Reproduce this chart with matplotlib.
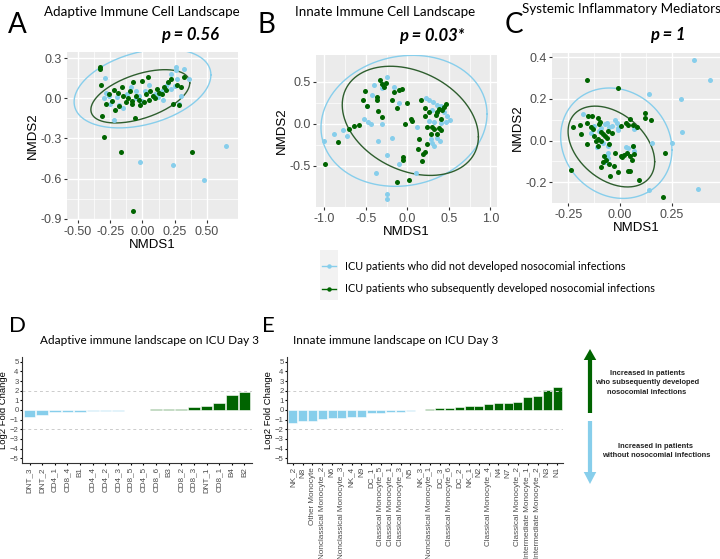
import numpy as np
import matplotlib
matplotlib.use("Agg")
import matplotlib.pyplot as plt
from matplotlib.lines import Line2D
from matplotlib.patches import FancyArrow, Rectangle

# ---- NMDS data ----
a_green = [(-0.33, 0.23), (-0.33, 0.22), (-0.32, 0.10), (-0.30, -0.29), (-0.17, -0.40), (-0.07, -0.84),
           (0.38, -0.40), (-0.31, -0.13), (-0.28, -0.04), (-0.26, 0.03), (-0.24, -0.02), (-0.22, 0.06),
           (-0.21, -0.09), (-0.19, 0.04), (-0.18, -0.06), (-0.16, 0.08), (-0.15, 0.02), (-0.13, -0.03),
           (-0.11, 0.00), (-0.10, 0.05), (-0.08, -0.04), (-0.07, 0.12), (-0.06, -0.15), (-0.05, 0.02),
           (-0.03, -0.01), (-0.02, -0.05), (0.00, 0.13), (0.01, -0.03), (0.03, 0.03), (0.04, 0.16),
           (0.05, -0.01), (0.06, 0.05), (0.08, 0.02), (0.10, 0.00), (0.11, 0.07), (0.13, 0.04),
           (0.15, 0.03), (0.17, 0.08), (0.18, 0.06), (0.20, 0.12), (0.22, 0.14), (0.24, -0.04),
           (0.28, -0.05), (0.30, 0.08), (0.32, 0.16), (0.27, 0.10), (-0.08, -0.02)]
a_blue = [(0.65, -0.36), (0.48, -0.61), (0.24, -0.50), (-0.02, -0.48), (0.26, 0.23), (0.26, 0.21),
          (0.32, 0.22), (0.36, 0.14), (0.22, 0.18), (0.20, 0.11), (-0.29, 0.15), (-0.28, 0.04),
          (-0.26, 0.02), (-0.30, 0.00), (-0.25, -0.04), (-0.22, -0.16), (-0.18, -0.05), (-0.15, -0.07),
          (-0.12, 0.03), (-0.09, 0.08), (-0.05, 0.00), (-0.03, 0.02), (0.02, 0.05), (0.05, 0.10),
          (0.08, 0.02), (0.12, 0.01), (0.15, 0.05), (0.18, 0.09), (0.22, 0.07), (0.25, 0.09),
          (0.28, -0.04), (0.30, 0.02), (0.27, 0.14), (-0.05, 0.05), (0.00, -0.02), (-0.20, 0.01),
          (0.10, 0.03), (0.16, -0.01)]

b_green = [(-0.99, -0.48), (-0.83, -0.22), (-0.70, -0.06), (-0.64, -0.03), (-0.58, -0.01), (-0.51, 0.39),
           (-0.53, 0.29), (-0.49, 0.21), (-0.37, 0.32), (-0.36, 0.29), (-0.35, 0.15), (-0.33, 0.52),
           (-0.30, 0.48), (-0.26, 0.49), (-0.28, 0.44), (-0.30, 0.08), (-0.18, 0.29), (-0.16, 0.38),
           (-0.12, 0.19), (-0.06, 0.42), (-0.10, 0.40), (0.00, 0.25), (-0.03, 0.00), (0.04, 0.06),
           (0.06, 0.04), (-0.05, -0.39), (-0.05, -0.43), (-0.13, -0.69), (0.02, -0.67), (0.16, 0.28),
           (0.21, 0.19), (0.21, 0.09), (0.26, 0.14), (0.24, -0.04), (0.28, -0.12), (0.30, -0.04),
           (0.32, -0.06), (0.34, 0.10), (0.36, 0.14), (0.38, 0.18), (0.42, 0.16), (0.44, 0.20),
           (0.47, 0.24), (0.41, 0.06), (0.40, -0.07), (0.38, -0.05), (0.36, -0.12), (0.24, -0.24),
           (0.21, -0.34), (0.19, -0.36), (0.18, -0.44), (0.13, -0.30), (0.14, -0.18)]
b_blue = [(-1.00, -0.21), (-0.88, -0.12), (-0.77, -0.07), (-0.73, -0.15), (-0.52, 0.06), (-0.47, 0.02),
          (-0.44, 0.00), (-0.42, 0.34), (-0.40, 0.46), (-0.30, 0.43), (-0.24, 0.56), (-0.16, 0.44),
          (-0.48, 0.21), (-0.35, -0.20), (-0.38, -0.59), (-0.30, 0.00), (-0.18, -0.17), (-0.24, -0.37),
          (-0.10, -0.48), (-0.24, -0.83), (-0.24, -0.89), (0.10, -0.58), (-0.10, 0.25), (0.12, -0.04),
          (0.22, 0.31), (0.26, 0.28), (0.31, 0.26), (0.36, 0.23), (0.40, 0.21), (0.44, 0.14),
          (0.48, 0.09), (0.51, 0.05), (0.30, 0.16), (0.26, 0.04), (0.32, 0.02), (0.40, 0.01),
          (0.36, -0.17), (0.30, -0.23), (0.32, -0.26), (0.39, -0.21), (0.28, -0.18), (0.46, 0.02)]

c_green = [(-0.16, 0.29), (-0.01, 0.25), (-0.24, -0.14), (0.21, -0.27), (0.22, -0.06), (0.12, 0.13),
           (0.12, 0.11), (0.15, 0.10), (0.09, -0.19), (-0.226, 0.065), (-0.194, 0.073), (-0.19, 0.03),
           (-0.16, 0.083), (-0.155, 0.12), (-0.134, 0.12), (-0.129, 0.054), (-0.109, 0.11), (-0.10, 0.078),
           (-0.09, 0.041), (-0.158, -0.017), (-0.117, 0.0), (-0.109, 0.006), (-0.106, -0.025), (-0.093, 0.0),
           (-0.085, 0.03), (-0.073, 0.022), (-0.064, 0.014), (-0.06, 0.046), (-0.096, 0.089), (-0.125, 0.022),
           (-0.142, 0.065), (-0.04, 0.038), (-0.052, -0.017), (-0.077, -0.073), (-0.085, -0.105),
           (-0.068, -0.094), (-0.052, -0.113), (-0.024, -0.062), (-0.031, -0.12), (-0.093, -0.129),
           (-0.047, -0.168), (-0.011, -0.152), (0.005, -0.073), (0.008, -0.081), (0.018, -0.07),
           (0.034, -0.062), (0.046, -0.073), (0.057, -0.092), (0.065, -0.025), (0.07, -0.065),
           (0.037, -0.144), (0.046, -0.148), (0.005, 0.07), (0.03, 0.083), (0.037, 0.073), (0.062, 0.073),
           (0.046, 0.105), (0.083, 0.067)]
c_blue = [(0.357, 0.387), (0.438, 0.292), (0.14, 0.225), (0.298, 0.197), (0.30, 0.041), (0.155, -0.013),
          (0.252, -0.013), (0.14, -0.24), (0.376, -0.232), (-0.18, 0.125), (-0.142, 0.038), (-0.125, 0.07),
          (-0.101, 0.046), (-0.09, 0.062), (-0.073, 0.078), (-0.064, 0.083), (-0.052, 0.067), (-0.041, 0.07),
          (-0.024, 0.098), (-0.011, 0.062), (-0.011, 0.05), (-0.015, 0.086), (-0.06, -0.025), (-0.057, -0.062),
          (-0.06, -0.086), (-0.073, -0.102), (-0.064, -0.073), (0.029, -0.03), (0.037, -0.038), (0.062, -0.025),
          (0.07, -0.049), (0.067, 0.054), (0.073, 0.062), (-0.112, -0.033), (-0.083, -0.01)]

# 95% ellipses: centre x, centre y, half-width, half-height, phase (deg)
a_ell = {"blue": (0.0, 0.073, 0.53, 0.295, 70), "green": (-0.017, 0.014, 0.383, 0.199, 60)}
b_ell = {"blue": (-0.04, 0.036, 1.0, 0.78, 84), "green": (0.036, 0.036, 0.82, 0.65, 107)}
c_ell = {"blue": (-0.018, -0.013, 0.27, 0.265, 97), "green": (-0.042, -0.029, 0.21, 0.194, 112)}

# ---- fold-change bars ----
d_labels = ["DNT_3", "DNT_2", "CD4_1", "CD8_4", "B1", "CD4_4", "CD4_2", "CD4_3", "CD8_5",
            "CD4_5", "CD8_6", "B3", "CD8_2", "CD8_3", "DNT_1", "CD8_1", "B4", "B2"]
d_values = [-0.73, -0.48, -0.24, -0.2, -0.2, -0.14, -0.12, -0.06, -0.01,
            0.03, 0.07, 0.14, 0.15, 0.28, 0.38, 0.7, 1.6, 1.9]

e_labels = ["NK_2", "N8", "Other Monocyte", "Nonclassical Monocyte_2", "N6", "Nonclassical Monocyte_3",
            "NK_4", "N9", "DC_1", "Classical Monocyte_5", "Classical Monocyte_1", "Classical Monocyte_3",
            "N5", "NK_3", "Nonclassical Monocyte_1", "DC_3", "Classical Monocyte_6", "DC_2", "NK_1", "N2",
            "Classical Monocyte_4", "N4", "N7", "Classical Monocyte_2", "Intermediate Monocyte_1",
            "Intermediate Monocyte_2", "N3", "N1"]
e_values = [-1.35, -1.17, -1.17, -0.93, -0.86, -0.83, -0.76, -0.7, -0.35, -0.33, -0.2, -0.17,
            -0.1, 0.03, 0.1, 0.17, 0.25, 0.35, 0.38, 0.42, 0.65, 0.68, 0.75, 0.85, 1.3, 1.5, 2.05, 2.35]

BLUE = "#87CEEB"
GREEN = "#006400"
TXT = ["Lato", "DejaVu Sans"]
ARIAL = ["Liberation Sans", "DejaVu Sans"]

fig = plt.figure(figsize=(7.2, 5.59), dpi=100)


def W(x):
    return x / 720.0


def H(y):
    return 1 - y / 559.0


def nmds_panel(rect, green, blue, ell, xlim, ylim, xticks, yticks, xfmt, yfmt):
    ax = fig.add_axes(rect)
    ax.set_facecolor("#EBEBEB")
    ax.set_xlim(*xlim)
    ax.set_ylim(*ylim)
    ax.set_xticks(xticks)
    ax.set_yticks(yticks)
    ax.set_xticks([(xticks[i] + xticks[i + 1]) / 2 for i in range(len(xticks) - 1)], minor=True)
    ax.set_yticks([(yticks[i] + yticks[i + 1]) / 2 for i in range(len(yticks) - 1)], minor=True)
    ax.set_xticklabels([xfmt % v for v in xticks])
    ax.set_yticklabels([yfmt % v for v in yticks])
    ax.grid(True, which="major", color="white", lw=1.0)
    ax.grid(True, which="minor", color="white", lw=0.5)
    ax.set_axisbelow(True)
    for s in ax.spines.values():
        s.set_visible(False)
    ax.tick_params(which="major", length=2.5, color="#333333", labelsize=9, labelcolor="#4D4D4D", pad=1.5)
    ax.tick_params(which="minor", length=0)
    for lab in ax.get_xticklabels() + ax.get_yticklabels():
        lab.set_family(ARIAL)
    ax.set_xlabel("NMDS1", fontsize=9.5, family=ARIAL, labelpad=1)
    ax.set_ylabel("NMDS2", fontsize=9.5, family=ARIAL, labelpad=1)
    t = np.linspace(0, 2 * np.pi, 300)
    for key, col in (("blue", BLUE), ("green", "#2E5E2E")):
        cx, cy, rx, ry, ph = ell[key]
        ax.plot(cx + rx * np.cos(t), cy + ry * np.cos(t - np.radians(ph)), color=col, lw=1.0)
    bx, by = zip(*blue)
    gx, gy = zip(*green)
    ax.scatter(bx, by, s=13, color=BLUE, lw=0, zorder=3)
    ax.scatter(gx, gy, s=13, color=GREEN, lw=0, zorder=3)
    return ax


nmds_panel([W(67), H(220), W(171), 168 / 559], a_green, a_blue, a_ell,
           (-0.585, 0.74), (-0.91, 0.345), [-0.5, -0.25, 0, 0.25, 0.5], [-0.9, -0.6, -0.3, 0.0, 0.3],
           "%.2f", "%.1f")
nmds_panel([W(316), H(207), W(181), 152 / 559], b_green, b_blue, b_ell,
           (-1.1, 1.08), (-0.99, 0.82), [-1.0, -0.5, 0.0, 0.5, 1.0], [-0.5, 0.0, 0.5],
           "%.1f", "%.1f")
nmds_panel([W(552), H(203), W(168), 150 / 559], c_green, c_blue, c_ell,
           (-0.33, 0.485), (-0.3, 0.42), [-0.25, 0.0, 0.25], [-0.2, 0.0, 0.2, 0.4],
           "%.2f", "%.1f")

# titles, letters and p-values
fig.text(W(142), H(12), "Adaptive Immune Cell Landscape", ha="center", va="center", fontsize=9.6, family=TXT)
fig.text(W(385), H(12), "Innate Immune Cell Landscape", ha="center", va="center", fontsize=9.6, family=TXT)
fig.text(W(621), H(9), "Systemic Inflammatory Mediators", ha="center", va="center", fontsize=9.6, family=TXT)
for x, y, s in ((W(8), H(25), "A"), (W(258), H(25), "B"), (W(505), H(25), "C")):
    fig.text(x, y, s, ha="left", va="center", fontsize=20, family=TXT)
fig.text(W(190), H(35), "p = 0.56", ha="center", va="center", fontsize=12, style="italic", weight="bold", family=TXT)
fig.text(W(432), H(36), "p = 0.03*", ha="center", va="center", fontsize=12, style="italic", weight="bold", family=TXT)
fig.text(W(668), H(35), "p = 1", ha="center", va="center", fontsize=12, style="italic", weight="bold", family=TXT)

# legend
fig.patches.append(Rectangle((W(320), H(300)), W(18), 50 / 559, transform=fig.transFigure,
                             color="#F2F2F2", lw=0))
for yy, col in ((266, BLUE), (289, GREEN)):
    fig.lines.append(Line2D([W(322), W(329), W(336)], [H(yy)] * 3, transform=fig.transFigure, color=col,
                            lw=1, marker="o", markersize=3.2, markevery=[1], markeredgewidth=0))
fig.text(W(345), H(266), "ICU patients who did not developed nosocomial infections", va="center",
         fontsize=7.8, family=TXT)
fig.text(W(345), H(289), "ICU patients who subsequently developed nosocomial infections", va="center",
         fontsize=7.8, family=TXT)


def bar_panel(rect, labels, values, title, title_x, letter, letter_x):
    ax = fig.add_axes(rect)
    x = np.arange(len(values))
    cols = [BLUE if v < 0 else GREEN for v in values]
    ax.bar(x, values, width=0.92, color=cols, edgecolor="white", lw=0.4)
    ax.axhline(2, color="#CCCCCC", lw=0.7, ls=(0, (3, 3)))
    ax.axhline(-2, color="#CCCCCC", lw=0.7, ls=(0, (3, 3)))
    ax.set_xlim(-0.6, len(values) - 0.4)
    ax.set_ylim(-5.5, 5.5)
    ax.set_yticks(range(-5, 6))
    ax.set_xticks(x)
    ax.set_xticklabels(labels, rotation=90, fontsize=5.9, color="#4D4D4D", family=ARIAL)
    for lab in ax.get_yticklabels():
        lab.set_family(ARIAL)
    ax.tick_params(axis="y", labelsize=5.6, labelcolor="#4D4D4D", length=1.5, pad=1)
    ax.tick_params(axis="x", length=1.5, pad=1.5)
    for s in ("top", "right"):
        ax.spines[s].set_visible(False)
    for s in ("left", "bottom"):
        ax.spines[s].set_color("#333333")
        ax.spines[s].set_linewidth(0.8)
    ax.set_ylabel("Log2 Fold Change", fontsize=6.8, family=ARIAL, labelpad=1)
    fig.text(title_x, H(340), title, fontsize=8.5, va="center", family=TXT)
    fig.text(letter_x, H(326), letter, fontsize=16, va="center", family=TXT)
    return ax


bar_panel([W(22), H(463), W(230), 106 / 559], d_labels, d_values,
          "Adaptive immune landscape on ICU Day 3", W(40), "D", W(9))
bar_panel([W(287), H(463), W(276), 106 / 559], e_labels, e_values,
          "Innate immune landscape on ICU Day 3", W(293), "E", W(262))

# direction arrows
fig.patches.append(FancyArrow(W(590), H(413), 0, 64 / 559, width=W(4.2), head_width=W(12.5),
                              head_length=11 / 559, length_includes_head=True,
                              transform=fig.transFigure, color=GREEN, lw=0))
fig.patches.append(FancyArrow(W(590), H(421), 0, -63 / 559, width=W(4.2), head_width=W(12.5),
                              head_length=12 / 559, length_includes_head=True,
                              transform=fig.transFigure, color=BLUE, lw=0))
fig.text(W(647), H(383), "Increased in patients\nwho subsequently developed\nnosocomial infections",
         ha="center", va="center", fontsize=5.4, weight="bold", family=ARIAL, color="#222222", linespacing=1.45)
fig.text(W(656), H(451), "Increased in patients\nwithout nosocomial infections",
         ha="center", va="center", fontsize=5.4, weight="bold", family=ARIAL, color="#222222", linespacing=1.45)

fig.savefig("out.png", dpi=100)
